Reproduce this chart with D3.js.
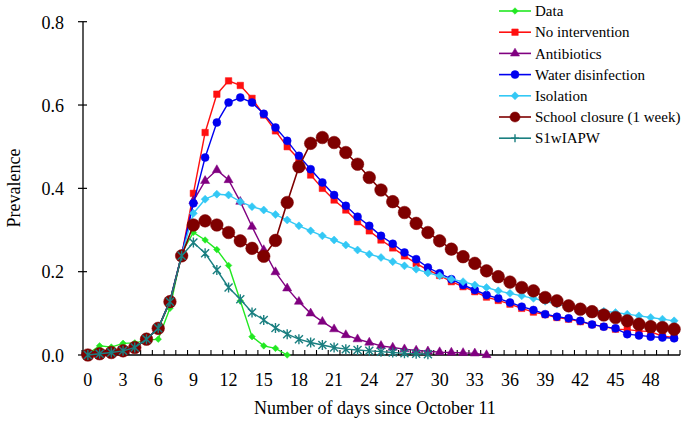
<!DOCTYPE html>
<html><head><meta charset="utf-8">
<script src="https://cdn.jsdelivr.net/npm/d3@7"></script>
<style>body{margin:0;background:#fff}svg{display:block}</style>
</head><body><svg id="c" width="685" height="424" font-family="'Liberation Serif', 'Times New Roman', 'DejaVu Serif', serif"></svg>
<script>
// ---- data ----
const days = d3.range(0, 51);
const xTickLabels = d3.range(0, 49, 3);
const yTicks = [0, 0.2, 0.4, 0.6, 0.8];
const seriesNames = ["Data","No intervention","Antibiotics","Water disinfection","Isolation","School closure (1 week)","S1wIAPW"];

const dataObs = [0.002,0.022,0.019,0.028,0.029,0.035,0.038,0.112,0.245,0.294,0.276,0.253,0.215,0.13,0.044,0.022,0.016,0.0];
const noIntervention = [0.0,0.003,0.006,0.01,0.018,0.038,0.064,0.13,0.24,0.388,0.534,0.626,0.658,0.647,0.616,0.576,0.538,0.5,0.47,0.432,0.4,0.372,0.348,0.32,0.298,0.276,0.257,0.238,0.22,0.204,0.191,0.176,0.164,0.152,0.139,0.131,0.122,0.112,0.103,0.097,0.09,0.086,0.08,0.073,0.068,0.062,0.061,0.058,0.056,0.045,0.042];
const antibiotics = [0.0,0.003,0.006,0.01,0.018,0.038,0.064,0.13,0.24,0.37,0.418,0.444,0.42,0.368,0.308,0.252,0.199,0.16,0.128,0.1,0.08,0.062,0.048,0.038,0.03,0.022,0.018,0.014,0.011,0.009,0.007,0.006,0.005,0.004,0.0];
const waterDisinfection = [0.0,0.003,0.006,0.01,0.018,0.038,0.064,0.13,0.24,0.364,0.474,0.558,0.606,0.618,0.606,0.579,0.546,0.514,0.478,0.446,0.414,0.384,0.358,0.332,0.31,0.286,0.267,0.246,0.23,0.21,0.196,0.182,0.168,0.156,0.144,0.136,0.126,0.116,0.108,0.098,0.092,0.088,0.082,0.073,0.068,0.064,0.05,0.047,0.044,0.042,0.04];
const isolation = [0.0,0.003,0.006,0.01,0.018,0.038,0.064,0.13,0.24,0.34,0.374,0.386,0.384,0.368,0.356,0.348,0.337,0.324,0.31,0.298,0.286,0.276,0.264,0.252,0.242,0.234,0.224,0.214,0.206,0.197,0.19,0.182,0.176,0.168,0.162,0.154,0.148,0.142,0.136,0.129,0.122,0.116,0.111,0.108,0.105,0.102,0.098,0.094,0.09,0.086,0.082];
const schoolClosure = [0.0,0.003,0.006,0.01,0.018,0.038,0.064,0.128,0.238,0.312,0.322,0.312,0.294,0.274,0.256,0.237,0.275,0.366,0.452,0.508,0.522,0.51,0.486,0.458,0.426,0.396,0.368,0.342,0.316,0.294,0.274,0.254,0.236,0.22,0.202,0.188,0.175,0.162,0.154,0.138,0.13,0.118,0.11,0.104,0.096,0.09,0.082,0.074,0.068,0.066,0.062];
const s1wIAPW = [0.0,0.003,0.006,0.01,0.018,0.038,0.064,0.128,0.238,0.27,0.244,0.204,0.162,0.134,0.102,0.084,0.065,0.05,0.038,0.03,0.024,0.018,0.014,0.012,0.01,0.008,0.006,0.004,0.003,0.002];

const seriesValues = [dataObs, noIntervention, antibiotics, waterDisinfection, isolation, schoolClosure, s1wIAPW];
const colors = ["#22e822","#ff1010","#800080","#0000f0","#33c8f5","#7f0000","#1a7f80"];
const markers = ["smallDiamond","square","triangle","circle","diamond","bigCircle","star"];

// ---- layout ----
const FONT = "'Liberation Serif', 'Times New Roman', 'DejaVu Serif', serif";
const svg = d3.select("#c");
const x = d3.scaleBand().domain(days).range([82, 680]).padding(0);
const cx = d => x(d) + x.bandwidth() / 2;
const y = d3.scaleLinear().domain([0, 0.8]).range([355, 21.7]);

function markerPath(type) {
  switch (type) {
    case "square": return d3.symbol(d3.symbolSquare, 42)();
    case "circle": return d3.symbol(d3.symbolCircle, 50)();
    case "bigCircle": return d3.symbol(d3.symbolCircle, 125)();
    case "triangle": return d3.symbol(d3.symbolTriangle, 36)();
    case "diamond": return "M0,-4L4,0L0,4L-4,0Z";
    case "smallDiamond": return "M0,-3.3L3.3,0L0,3.3L-3.3,0Z";
    case "star": return "M-4,-4L4,4M-4,4L4,-4M0,-5L0,5";
  }
}

// y axis
const yAxis = d3.axisLeft(y).tickValues(yTicks).tickFormat(d3.format(".1f")).tickSize(0);
const gy = svg.append("g").attr("transform", "translate(83,0)").call(yAxis);
gy.attr("font-family", FONT).attr("font-size", 18);
gy.select(".domain").remove();
gy.selectAll("text").attr("x", -19).attr("dy", "0.35em").attr("fill", "#000");
svg.append("line").attr("x1", 83).attr("x2", 83).attr("y1", y(0.8)).attr("y2", y(0)).attr("stroke", "#000").attr("stroke-width", 1.3);
svg.selectAll(".ytk").data(yTicks).join("line").attr("class", "ytk")
  .attr("x1", 78).attr("x2", 87).attr("y1", d => y(d)).attr("y2", d => y(d)).attr("stroke", "#000").attr("stroke-width", 1.2);

// x axis
svg.append("line").attr("x1", 82).attr("x2", 680).attr("y1", y(0)).attr("y2", y(0)).attr("stroke", "#000").attr("stroke-width", 1.3);
const bounds = d3.range(0, 52).map(i => 82 + i * x.bandwidth());
svg.selectAll(".xtk").data(bounds).join("line").attr("class", "xtk")
  .attr("x1", d => d).attr("x2", d => d).attr("y1", y(0)).attr("y2", y(0) - 5).attr("stroke", "#000").attr("stroke-width", 1.1);
const xAxis = d3.axisBottom(x).tickValues(xTickLabels).tickSize(0).tickPadding(0);
const gx = svg.append("g").attr("transform", `translate(0,${y(0)})`).call(xAxis);
gx.attr("font-family", FONT).attr("font-size", 18);
gx.select(".domain").remove();
gx.selectAll("text").attr("y", 18).attr("dy", "0.71em").attr("fill", "#000");

// axis titles
svg.append("text").attr("x", 375).attr("y", 414).attr("text-anchor", "middle").attr("font-size", 18).text("Number of days since October 11");
svg.append("text").attr("transform", "translate(20,188) rotate(-90)").attr("text-anchor", "middle").attr("font-size", 18).text("Prevalence");

// series
const line = d3.line().x((d, i) => cx(i)).y(d => y(d));
seriesValues.forEach((vals, si) => {
  const g = svg.append("g");
  g.append("path").attr("d", line(vals)).attr("fill", "none").attr("stroke", colors[si]).attr("stroke-width", si === 5 ? 1.6 : 1.4);
  const isStar = markers[si] === "star";
  g.selectAll("path.m").data(vals).join("path").attr("class", "m")
    .attr("transform", (d, i) => `translate(${cx(i)},${y(d)})`)
    .attr("d", markerPath(markers[si]))
    .attr("fill", isStar ? "none" : colors[si])
    .attr("stroke", colors[si]).attr("stroke-width", isStar ? 1.4 : 0.5);
});

// legend
const lg = svg.append("g").attr("font-family", FONT);
seriesNames.forEach((name, i) => {
  const yy = 11 + i * 21.2;
  lg.append("line").attr("x1", 499).attr("x2", 531).attr("y1", yy).attr("y2", yy).attr("stroke", colors[i]).attr("stroke-width", 1.6);
  const isStar = markers[i] === "star";
  lg.append("path").attr("transform", `translate(515,${yy})`)
    .attr("d", markers[i] === "bigCircle" ? d3.symbol(d3.symbolCircle, 80)() : (isStar ? "M-4,0L4,0M0,-4L0,4" : markerPath(markers[i])))
    .attr("fill", isStar ? "none" : colors[i]).attr("stroke", colors[i]).attr("stroke-width", isStar ? 1.4 : 0.5);
  lg.append("text").attr("x", 535).attr("y", yy).attr("dy", "0.35em").attr("font-size", 15).text(name);
});
</script>
</body></html>
